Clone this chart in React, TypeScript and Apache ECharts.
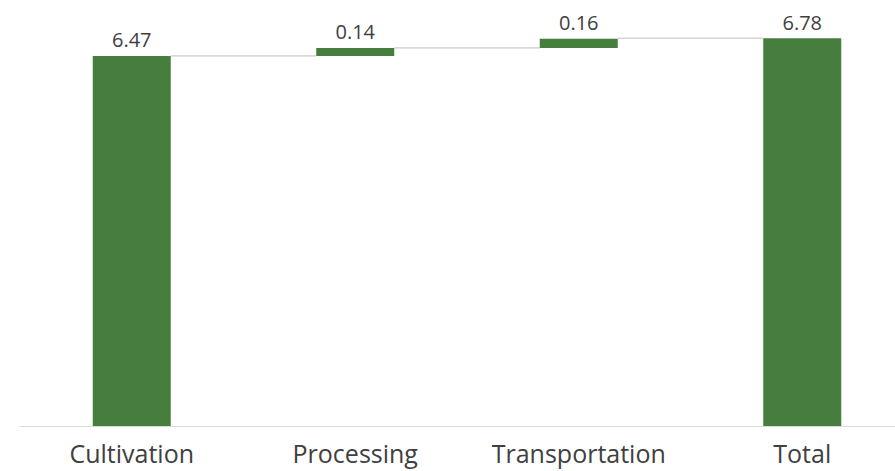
import React, { useEffect, useRef } from "react";
import * as echarts from "echarts";

const categories = ["Cultivation", "Processing", "Transportation", "Total"];
const values = [6.47, 0.14, 0.16, 6.78];
const bases = [0, 6.47, 6.61, 0];
const connectorLevels = [6.47, 6.61, 6.78];

const GREEN = "#467F3D";
const TEXT = "#404040";
const FONT = "'Open Sans', 'Noto Sans', sans-serif";

export default function App() {
  const ref = useRef<HTMLDivElement>(null);
  useEffect(() => {
    document.body.style.margin = "0";
    document.body.style.overflow = "hidden";
    const chart = echarts.init(ref.current!, undefined, { renderer: "svg" });
    const barWidth = 78;
    chart.setOption({
      animation: false,
      backgroundColor: "#ffffff",
      grid: { left: 20, right: 0, top: 25.6, bottom: 45 },
      xAxis: {
        type: "category",
        data: categories,
        axisLine: { lineStyle: { color: "#d9d9d9", width: 1 } },
        axisTick: { show: false },
        axisLabel: {
          color: TEXT,
          fontSize: 25,
          lineHeight: 25,
          fontFamily: FONT,
          margin: 14,
          interval: 0,
        },
      },
      yAxis: {
        type: "value",
        min: 0,
        max: 7,
        show: false,
        splitLine: { show: false },
      },
      series: [
        {
          type: "bar",
          stack: "w",
          data: bases,
          barWidth,
          itemStyle: { color: "transparent" },
          silent: true,
        },
        {
          type: "bar",
          stack: "w",
          data: values,
          barWidth,
          itemStyle: { color: GREEN },
          label: {
            show: true,
            position: "top",
            distance: 6,
            color: TEXT,
            fontSize: 20,
            fontFamily: FONT,
            formatter: (p: any) => values[p.dataIndex].toFixed(2),
          },
        },
        {
          type: "custom",
          data: connectorLevels.map((v, i) => [i, v]),
          renderItem: (params: any, api: any) => {
            const i = api.value(0);
            const lvl = api.value(1);
            const p1 = api.coord([i, lvl]);
            const p2 = api.coord([i + 1, lvl]);
            return {
              type: "line",
              shape: {
                x1: p1[0] + barWidth / 2,
                y1: p1[1],
                x2: p2[0] - barWidth / 2,
                y2: p2[1],
              },
              style: { stroke: "#bfbfbf", lineWidth: 1 },
            };
          },
          silent: true,
          z: 1,
        },
      ],
    });
    return () => chart.dispose();
  }, []);
  return (
    <div style={{ width: 895, height: 471, overflow: "hidden" }}>
      <div ref={ref} style={{ width: 914, height: 471 }} />
    </div>
  );
}
